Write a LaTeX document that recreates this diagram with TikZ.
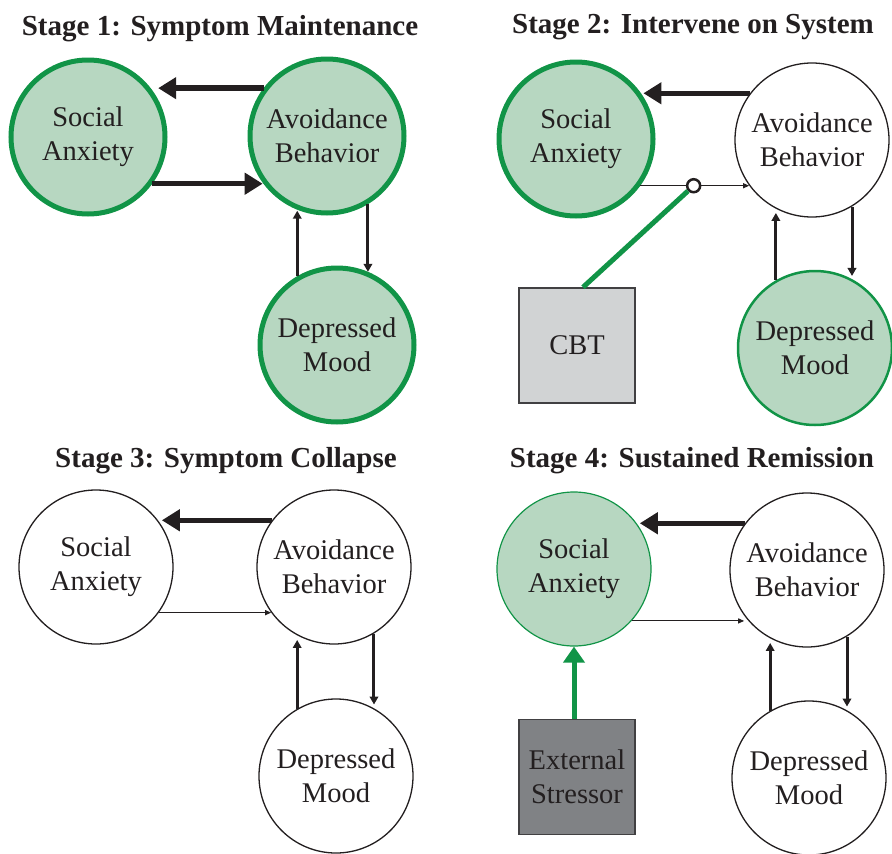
\documentclass[tikz,border=0pt]{standalone}
\usepackage{fontspec}
\setmainfont{Liberation Serif}
\usetikzlibrary{arrows.meta,calc}
\definecolor{symfill}{HTML}{B7D7C1}
\definecolor{symline}{HTML}{119447}
\definecolor{ink}{HTML}{231F20}
\definecolor{boxlight}{HTML}{D1D3D4}
\definecolor{boxdark}{HTML}{808285}
\definecolor{boxedge}{HTML}{414042}
\begin{document}
\begin{tikzpicture}[x=1pt,y=-1pt,
  title/.style={anchor=base, text=ink, font=\fontsize{29}{34}\selectfont\bfseries},
  sym/.style={circle, inner sep=0pt, minimum size=154pt, align=center, text=ink,
    font=\fontsize{28.5}{34}\selectfont},
  active/.style={sym, draw=symline, line width=5pt, fill=symfill},
  mild/.style={sym, draw=symline, line width=2.5pt, fill=symfill},
  faint/.style={sym, draw=symline, line width=1.2pt, fill=symfill},
  quiet/.style={sym, draw=ink, line width=1.3pt, fill=white},
  treatbox/.style={rectangle, inner sep=0pt, minimum width=116pt, minimum height=115pt,
    align=center, text=ink, draw=boxedge, line width=1.5pt,
    font=\fontsize{28.5}{34}\selectfont},
  heavy/.style={draw=ink, line width=5.5pt, -{Triangle[length=18pt,width=21pt]}},
  medium/.style={draw=ink, line width=3pt, -{Triangle[length=8pt,width=8.5pt]}},
  light/.style={draw=ink, line width=1.1pt, -{Triangle[length=6pt,width=5pt]}},
  greenlink/.style={draw=symline, line width=5pt},
  greenarrow/.style={greenlink, -{Triangle[length=16pt,width=21pt]}},
  blocker/.style={circle, draw=ink, line width=2.5pt, fill=white, inner sep=0pt, minimum size=13pt}
]
\useasboundingbox (0,0) rectangle (892,854);

% ---- Stage 1 ----
\node[title] (t1) at (220,35) {Stage 1: Symptom Maintenance};
\node[active] (sa1) at (88,137) {Social\\Anxiety};
\node[active] (ab1) at (327,136) {Avoidance\\Behavior};
\node[active] (dm1) at (337,345) {Depressed\\Mood};
\draw[heavy] (ab1.143) -- (sa1.28 |- ab1.143);
\draw[heavy] (sa1.-36) -- (ab1.216 |- sa1.-36);
\draw[medium] (dm1.120) -- (dm1.120 |- ab1.250);
\draw[medium] (ab1.-59) -- (ab1.-59 |- dm1.67);

% ---- Stage 2 ----
\node[title] (t2) at (693,33) {Stage 2: Intervene on System};
\node[active] (sa2) at (576,139) {Social\\Anxiety};
\node[quiet] (ab2) at (812,140) {Avoidance\\Behavior};
\node[mild] (dm2) at (815,348) {Depressed\\Mood};
\node[treatbox, fill=boxlight] (cbt) at (577,345.5) {CBT};
\draw[heavy] (ab2.143) -- (sa2.32 |- ab2.143);
\draw[light] (sa2.-36) -- (ab2.216 |- sa2.-36);
\node[blocker] (blk) at ($(sa2.-36)!0.49!(ab2.216 |- sa2.-36)$) {};
\draw[greenlink] (blk) -- ([xshift=6pt]cbt.north);
\draw[medium] (dm2.120) -- (dm2.120 |- ab2.250);
\draw[medium] (ab2.-59) -- (ab2.-59 |- dm2.67);

% ---- Stage 3 ----
\node[title] (t3) at (226,467) {Stage 3: Symptom Collapse};
\node[quiet] (sa3) at (96,567) {Social\\Anxiety};
\node[quiet] (ab3) at (334,567) {Avoidance\\Behavior};
\node[quiet] (dm3) at (336,776) {Depressed\\Mood};
\draw[heavy] (ab3.143) -- (sa3.32 |- ab3.143);
\draw[light] (sa3.-36) -- (ab3.216 |- sa3.-36);
\draw[medium] (dm3.120) -- (dm3.120 |- ab3.250);
\draw[medium] (ab3.-59) -- (ab3.-59 |- dm3.67);

% ---- Stage 4 ----
\node[title] (t4) at (692,467) {Stage 4: Sustained Remission};
\node[faint] (sa4) at (574,569) {Social\\Anxiety};
\node[quiet] (ab4) at (807,570) {Avoidance\\Behavior};
\node[quiet] (dm4) at (809,778) {Depressed\\Mood};
\node[treatbox, fill=boxdark] (es) at (577,777) {External\\Stressor};
\draw[heavy] (ab4.143) -- (sa4.32 |- ab4.143);
\draw[light] (sa4.-42) -- (ab4.216 |- sa4.-42);
\draw[greenarrow] (sa4.south |- es.north) -- (sa4.south);
\draw[medium] (dm4.120) -- (dm4.120 |- ab4.250);
\draw[medium] (ab4.-59) -- (ab4.-59 |- dm4.67);
\end{tikzpicture}
\end{document}
